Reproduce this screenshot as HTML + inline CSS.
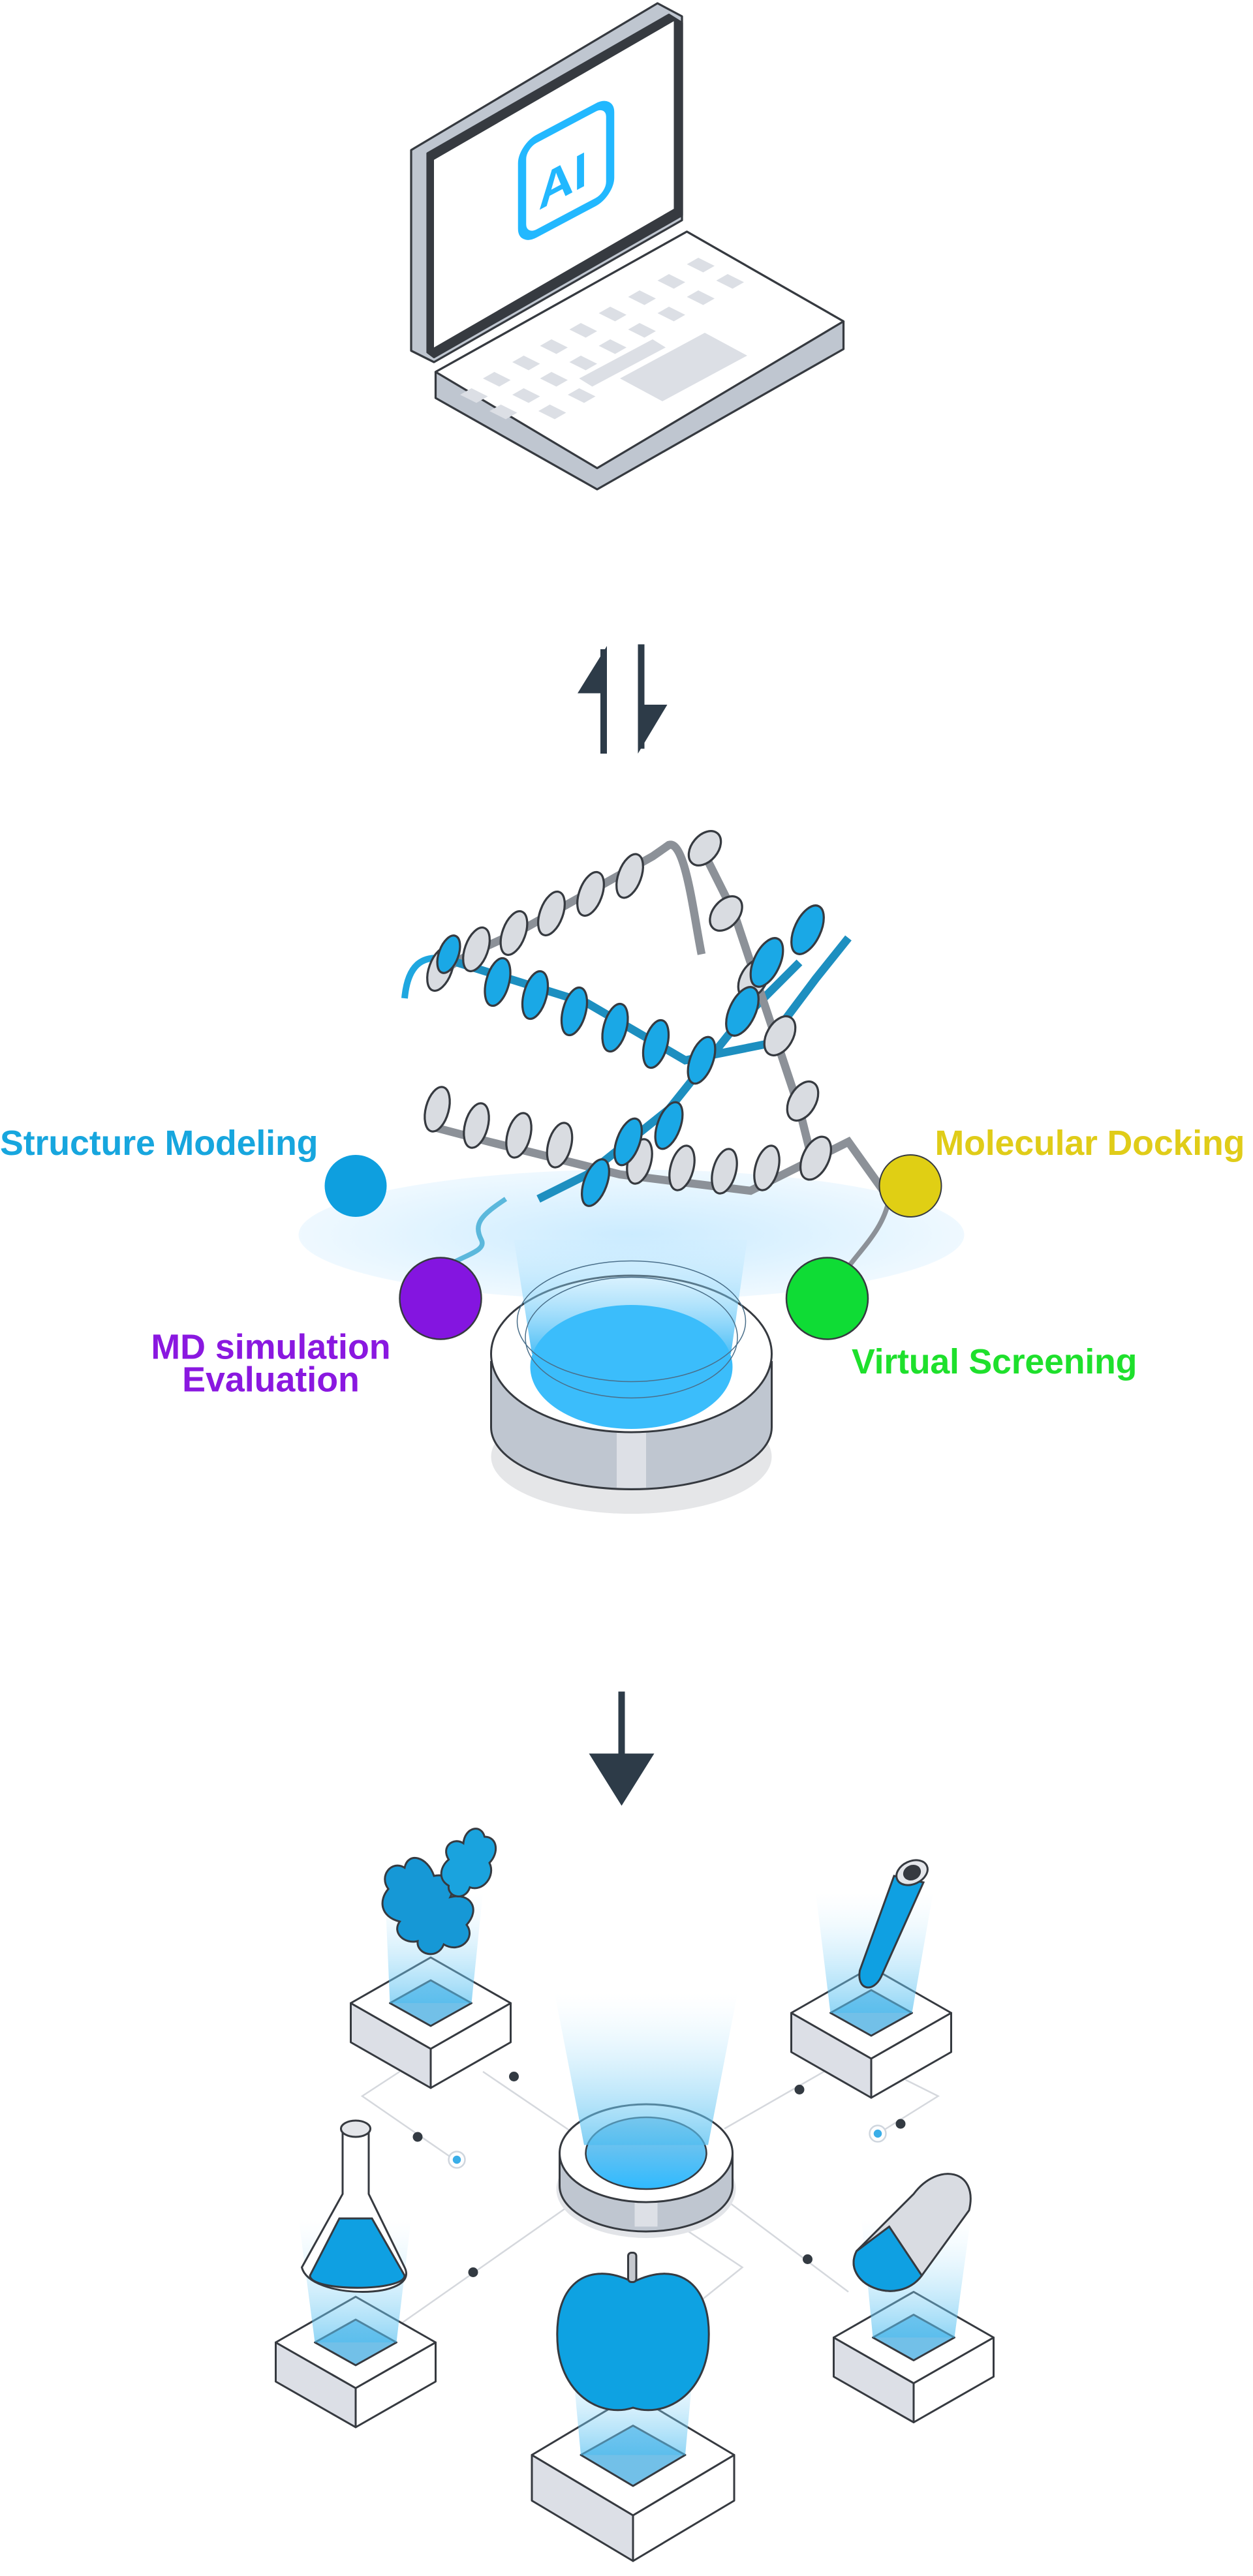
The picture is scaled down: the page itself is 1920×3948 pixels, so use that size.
<!DOCTYPE html>
<html><head><meta charset="utf-8"><style>
html,body{margin:0;padding:0;background:#fff;}
svg{display:block;}
text{font-family:"Liberation Sans",sans-serif;font-weight:bold;}
</style></head><body>
<svg width="1920" height="3948" viewBox="0 0 768 1579.2" xmlns="http://www.w3.org/2000/svg">
<defs>
<linearGradient id="beam" x1="0" y1="0" x2="0" y2="1"><stop offset="0" stop-color="#bfe8ff" stop-opacity="0.1"/><stop offset="1" stop-color="#3ab8f5" stop-opacity="0.9"/></linearGradient>
<linearGradient id="beam2" x1="0" y1="0" x2="0" y2="1"><stop offset="0" stop-color="#cdeeff" stop-opacity="0"/><stop offset="1" stop-color="#4fbdf0" stop-opacity="0.9"/></linearGradient>
<radialGradient id="glow" cx="0.5" cy="0.5" r="0.5"><stop offset="0" stop-color="#b5e3ff"/><stop offset="1" stop-color="#e8f6ff"/></radialGradient>
<linearGradient id="hole" x1="0" y1="0" x2="0" y2="1"><stop offset="0" stop-color="#8fc7e6"/><stop offset="1" stop-color="#2fbaff"/></linearGradient>
</defs>

<!-- LAPTOP -->
<g stroke="#363a40" stroke-width="1.3" stroke-linejoin="round">
<polygon points="267,228 421,142 517,197 517,214 366,300 267,244" fill="#bfc6d0"/>
<polygon points="267,228 421,142 517,197 366,287" fill="#fff"/>
<polygon points="252,92 403,2 418,10 418,135 266,222 252,215" fill="#bfc6d0"/>
<polygon points="262,94 410,9 418,14 418,132 266,219 262,216" fill="#363a40"/>
<polygon points="266,98 413,13 413,128 266,213" fill="#fff" stroke="none"/>
</g>
<g fill="#dcdfe5">
<polygon points="380,232 432,204 458,218 406,246"/>
<polygon points="355,232 400,208 408,213 363,237"/>
<polygon points="296,232 303,228 313,233 306,237"/><polygon points="314,222 321,218 331,223 324,227"/>
<polygon points="331,212 338,208 348,213 341,217"/><polygon points="349,202 356,198 366,203 359,207"/>
<polygon points="367,192 374,188 384,193 377,197"/><polygon points="385,182 392,178 402,183 395,187"/>
<polygon points="403,172 410,168 420,173 413,177"/><polygon points="421,162 428,158 438,163 431,167"/>
<polygon points="314,242 321,238 331,243 324,247"/><polygon points="331,232 338,228 348,233 341,237"/>
<polygon points="349,222 356,218 366,223 359,227"/><polygon points="367,212 374,208 384,213 377,217"/>
<polygon points="385,202 392,198 402,203 395,207"/><polygon points="403,192 410,188 420,193 413,197"/>
<polygon points="421,182 428,178 438,183 431,187"/><polygon points="439,172 446,168 456,173 449,177"/>
<polygon points="330,252 337,248 347,253 340,257"/><polygon points="348,242 355,238 365,243 358,247"/>
<polygon points="300,252 307,248 317,253 310,257"/><polygon points="282,242 289,238 299,243 292,247"/>
</g>
<rect x="320" y="80" width="54" height="58" rx="9" transform="skewY(-28) translate(0,180)" fill="none" stroke="#22b8ff" stroke-width="5"/>
<text x="0" y="0" font-size="30" fill="#22b8ff" transform="translate(330,129) skewY(-28)">AI</text>

<!-- ARROWS up/down -->
<g fill="#2d3b48">
<rect x="368" y="398" width="4" height="64"/>
<polygon points="372,396 354,425 372,425"/>
<rect x="391" y="395" width="4" height="64"/>
<polygon points="391,462 409,432 391,432"/>
</g>

<!-- PROTEIN SECTION -->
<ellipse cx="387" cy="757" rx="204" ry="40" fill="url(#glow)" opacity="0.7"/>
<ellipse cx="387" cy="893" rx="86" ry="35" fill="#e5e6e8"/>
<path d="M301,835 L301,875 A86,38 0 0 0 473,875 L473,835 Z" fill="#bfc6d0" stroke="#363a40" stroke-width="1.2"/>
<rect x="378" y="870" width="18" height="42" fill="#dde0e6"/>
<ellipse cx="387" cy="830" rx="86" ry="48" fill="#fff" stroke="#363a40" stroke-width="1.2"/>
<polygon points="315,760 458,760 448,830 326,830" fill="url(#beam)"/>
<ellipse cx="387" cy="838" rx="62" ry="38" fill="#3bbdfb"/>
<ellipse cx="387" cy="820" rx="65" ry="37" fill="none" stroke="#4a6f8a" stroke-width="0.6"/>
<ellipse cx="387" cy="810" rx="70" ry="37" fill="none" stroke="#4a6f8a" stroke-width="0.6"/>

<!-- helices -->
<g stroke="#363a40" stroke-width="1.2">
<path d="M248,612 C250,590 260,585 275,588" fill="none" stroke="#1fa7e0" stroke-width="4"/>
<path d="M265,605 C270,590 300,580 320,570 L400,525 L410,518 C420,515 425,560 430,585" fill="none" stroke="#8c9198" stroke-width="5"/>
<path d="M280,590 L360,615 L420,650 L470,640 L500,600 L520,575" fill="none" stroke="#1d8fc0" stroke-width="5"/>
<path d="M262,690 L300,700 L380,720 L460,730 L520,700 L545,735" fill="none" stroke="#8c9198" stroke-width="5"/>
<path d="M330,735 L360,720 L410,680 L450,630 L490,590" fill="none" stroke="#1d8fc0" stroke-width="5"/>
<path d="M430,520 L450,560 L470,620 L490,680 L500,720" fill="none" stroke="#8c9198" stroke-width="5"/>
<path d="M310,735 C295,745 290,750 295,760 C300,770 270,770 262,790 L250,805" fill="none" stroke="#5bb8dc" stroke-width="3"/>
<path d="M545,735 C540,760 520,770 505,800 L500,820" fill="none" stroke="#8c9198" stroke-width="3"/>
</g>
<g stroke="#363a40" stroke-width="1.3" fill="#d9dce1">
<ellipse cx="270" cy="594" rx="7" ry="14" transform="rotate(20 270 594)"/>
<ellipse cx="292" cy="582" rx="7" ry="14" transform="rotate(20 292 582)"/>
<ellipse cx="315" cy="572" rx="7" ry="14" transform="rotate(20 315 572)"/>
<ellipse cx="338" cy="560" rx="7" ry="14" transform="rotate(20 338 560)"/>
<ellipse cx="362" cy="548" rx="7" ry="14" transform="rotate(20 362 548)"/>
<ellipse cx="386" cy="537" rx="7" ry="14" transform="rotate(20 386 537)"/>
<ellipse cx="432" cy="520" rx="8" ry="12" transform="rotate(40 432 520)"/>
<ellipse cx="445" cy="560" rx="8" ry="12" transform="rotate(40 445 560)"/>
<ellipse cx="462" cy="600" rx="8" ry="13" transform="rotate(30 462 600)"/>
<ellipse cx="478" cy="635" rx="8" ry="13" transform="rotate(30 478 635)"/>
<ellipse cx="492" cy="675" rx="8" ry="13" transform="rotate(30 492 675)"/>
<ellipse cx="268" cy="680" rx="7" ry="14" transform="rotate(15 268 680)"/>
<ellipse cx="292" cy="690" rx="7" ry="14" transform="rotate(15 292 690)"/>
<ellipse cx="318" cy="696" rx="7" ry="14" transform="rotate(15 318 696)"/>
<ellipse cx="343" cy="702" rx="7" ry="14" transform="rotate(15 343 702)"/>
<ellipse cx="392" cy="712" rx="7" ry="14" transform="rotate(15 392 712)"/>
<ellipse cx="418" cy="716" rx="7" ry="14" transform="rotate(15 418 716)"/>
<ellipse cx="444" cy="718" rx="7" ry="14" transform="rotate(15 444 718)"/>
<ellipse cx="470" cy="716" rx="7" ry="14" transform="rotate(15 470 716)"/>
<ellipse cx="500" cy="710" rx="8" ry="14" transform="rotate(25 500 710)"/>
</g>
<g stroke="#363a40" stroke-width="1.3" fill="#1aa8e6">
<ellipse cx="275" cy="585" rx="6" ry="12" transform="rotate(20 275 585)"/>
<ellipse cx="305" cy="602" rx="7" ry="15" transform="rotate(15 305 602)"/>
<ellipse cx="328" cy="610" rx="7" ry="15" transform="rotate(15 328 610)"/>
<ellipse cx="352" cy="620" rx="7" ry="15" transform="rotate(15 352 620)"/>
<ellipse cx="377" cy="630" rx="7" ry="15" transform="rotate(15 377 630)"/>
<ellipse cx="402" cy="640" rx="7" ry="15" transform="rotate(15 402 640)"/>
<ellipse cx="430" cy="650" rx="7" ry="15" transform="rotate(20 430 650)"/>
<ellipse cx="455" cy="620" rx="8" ry="16" transform="rotate(25 455 620)"/>
<ellipse cx="470" cy="590" rx="8" ry="16" transform="rotate(25 470 590)"/>
<ellipse cx="495" cy="570" rx="8" ry="16" transform="rotate(25 495 570)"/>
<ellipse cx="410" cy="690" rx="7" ry="15" transform="rotate(20 410 690)"/>
<ellipse cx="385" cy="700" rx="7" ry="15" transform="rotate(20 385 700)"/>
<ellipse cx="365" cy="725" rx="7" ry="15" transform="rotate(20 365 725)"/>
</g>

<circle cx="218" cy="727" r="19" fill="#0e9fdf"/>
<circle cx="558" cy="727" r="19" fill="#e0cf14" stroke="#363a40" stroke-width="0.8"/>
<circle cx="270" cy="796" r="25" fill="#8415e0" stroke="#363a40" stroke-width="1"/>
<circle cx="507" cy="796" r="25" fill="#0fdc35" stroke="#363a40" stroke-width="1"/>

<text x="0" y="708" font-size="21.5" fill="#17a6de" textLength="195">Structure Modeling</text>
<text x="573" y="708" font-size="21.5" fill="#e0cc18" textLength="190">Molecular Docking</text>
<text x="166" y="833" font-size="21.5" fill="#8a18e0" text-anchor="middle">MD simulation</text>
<text x="166" y="853" font-size="21.5" fill="#8a18e0" text-anchor="middle">Evaluation</text>
<text x="522" y="842" font-size="21.5" fill="#1ee02c" textLength="175">Virtual Screening</text>

<!-- DOWN ARROW -->
<rect x="379" y="1037" width="4" height="42" fill="#2d3b48"/>
<polygon points="361,1075 401,1075 381,1107" fill="#2d3b48"/>

<!-- connectors -->
<g stroke="#d5d8dd" stroke-width="1" fill="none">
<path d="M296,1270 L352,1308"/><path d="M245,1270 L222,1285 L280,1325"/>
<path d="M444,1305 L505,1270"/><path d="M555,1275 L575,1285 L535,1310"/>
<path d="M352,1350 L245,1425"/><path d="M440,1345 L520,1405"/>
<path d="M410,1360 L455,1390 L430,1410"/>
</g>
<g fill="#333a42">
<circle cx="315" cy="1273" r="3"/><circle cx="256" cy="1310" r="3"/><circle cx="490" cy="1281" r="3"/>
<circle cx="552" cy="1302" r="3"/><circle cx="290" cy="1393" r="3"/><circle cx="495" cy="1385" r="3"/>
</g>
<circle cx="280" cy="1324" r="5" fill="#fff" stroke="#cfd6de"/><circle cx="280" cy="1324" r="2.5" fill="#3aaee8"/>
<circle cx="538" cy="1308" r="5" fill="#fff" stroke="#cfd6de"/><circle cx="538" cy="1308" r="2.5" fill="#3aaee8"/>

<!-- center ring -->
<ellipse cx="396" cy="1342" rx="55" ry="30" fill="#e2e4e8"/>
<path d="M343,1320 L343,1340 A53,28 0 0 0 449,1340 L449,1320 Z" fill="#bfc6d0" stroke="#363a40" stroke-width="1.2"/>
<rect x="389" y="1345" width="14" height="20" fill="#dde0e6"/>
<ellipse cx="396" cy="1320" rx="53" ry="30" fill="#fff" stroke="#363a40" stroke-width="1.2"/>
<ellipse cx="396" cy="1320" rx="37" ry="22" fill="url(#hole)" stroke="#363a40" stroke-width="1"/>
<polygon points="340,1222 452,1222 434,1315 358,1315" fill="url(#beam2)" opacity="0.8"/>

<!-- cubes -->
<g stroke="#363a40" stroke-width="1.2" stroke-linejoin="round">
<polygon points="215,1228 264,1256 264,1280 215,1252" fill="#dcdfe6"/>
<polygon points="313,1228 264,1256 264,1280 313,1252" fill="#fff"/>
<polygon points="264,1200 313,1228 264,1256 215,1228" fill="#fff"/>
<polygon points="264,1214 289,1228 264,1242 239,1228" fill="#72c0e8"/>
<polygon points="485,1234 534,1262 534,1286 485,1258" fill="#dcdfe6"/>
<polygon points="583,1234 534,1262 534,1286 583,1258" fill="#fff"/>
<polygon points="534,1206 583,1234 534,1262 485,1234" fill="#fff"/>
<polygon points="534,1220 559,1234 534,1248 509,1234" fill="#72c0e8"/>
<polygon points="169,1436 218,1464 218,1488 169,1460" fill="#dcdfe6"/>
<polygon points="267,1436 218,1464 218,1488 267,1460" fill="#fff"/>
<polygon points="218,1408 267,1436 218,1464 169,1436" fill="#fff"/>
<polygon points="218,1422 243,1436 218,1450 193,1436" fill="#72c0e8"/>
<polygon points="511,1433 560,1461 560,1485 511,1457" fill="#dcdfe6"/>
<polygon points="609,1433 560,1461 560,1485 609,1457" fill="#fff"/>
<polygon points="560,1405 609,1433 560,1461 511,1433" fill="#fff"/>
<polygon points="560,1419 585,1433 560,1447 535,1433" fill="#72c0e8"/>
<polygon points="326,1505 388,1542 388,1570 326,1533" fill="#dcdfe6"/>
<polygon points="450,1505 388,1542 388,1570 450,1533" fill="#fff"/>
<polygon points="388,1468 450,1505 388,1542 326,1505" fill="#fff"/>
<polygon points="388,1487 420,1505 388,1524 356,1505" fill="#72c0e8"/>
</g>
<g fill="url(#beam2)" opacity="0.7">
<polygon points="236,1160 296,1160 289,1228 239,1228"/>
<polygon points="500,1160 572,1160 559,1234 509,1234"/>
<polygon points="183,1360 252,1360 243,1436 193,1436"/>
<polygon points="528,1360 595,1360 585,1433 535,1433"/>
<polygon points="350,1440 426,1440 420,1505 356,1505"/>
</g>

<!-- objects -->
<g stroke="#363a40" stroke-width="1.2">
<path d="M238,1158 C232,1150 240,1140 248,1145 C250,1135 262,1138 266,1150 C275,1148 280,1155 276,1163 C288,1160 295,1170 286,1180 C292,1188 282,1198 272,1192 C268,1202 255,1198 256,1190 C248,1192 240,1185 245,1178 C233,1175 232,1165 238,1158Z" fill="#1698d6"/>
<path d="M275,1140 C270,1132 278,1126 284,1130 C285,1120 295,1118 297,1126 C305,1126 306,1136 300,1142 C304,1150 296,1160 288,1157 C285,1166 274,1163 275,1156 C268,1152 270,1144 275,1140Z" fill="#1aa3de"/>
<path d="M548,1150 L566,1154 L540,1212 C535,1222 525,1220 527,1208 Z" fill="#0fa0e2"/>
<ellipse cx="559" cy="1148" rx="10" ry="7" fill="#e4e6ea" transform="rotate(-25 559 1148)"/>
<ellipse cx="559" cy="1148" rx="5" ry="4" fill="#363a40" transform="rotate(-25 559 1148)"/>
<path d="M210,1305 L226,1305 L226,1345 L248,1390 C258,1410 190,1410 185,1390 L210,1345 Z" fill="#fff"/>
<path d="M208,1360 L228,1360 L248,1395 C248,1405 190,1405 190,1395 Z" fill="#0fa0e2"/>
<ellipse cx="218" cy="1305" rx="9" ry="5" fill="#e4e6ea"/>
<path d="M560,1345 C575,1325 600,1330 594,1355 L565,1395 C550,1415 515,1400 525,1380 Z" fill="#d9dce2"/>
<path d="M545,1365 L565,1395 C550,1415 515,1400 525,1380 Z" fill="#0fa0e2"/>
<path d="M388,1399 C360,1385 338,1400 342,1440 C346,1470 370,1482 388,1476 C406,1482 430,1470 434,1440 C438,1400 416,1385 388,1399Z" fill="#0ea2e2"/>
<rect x="385" y="1381" width="5" height="18" rx="2" fill="#c5c8ce"/>
</g>
</svg>
</body></html>
